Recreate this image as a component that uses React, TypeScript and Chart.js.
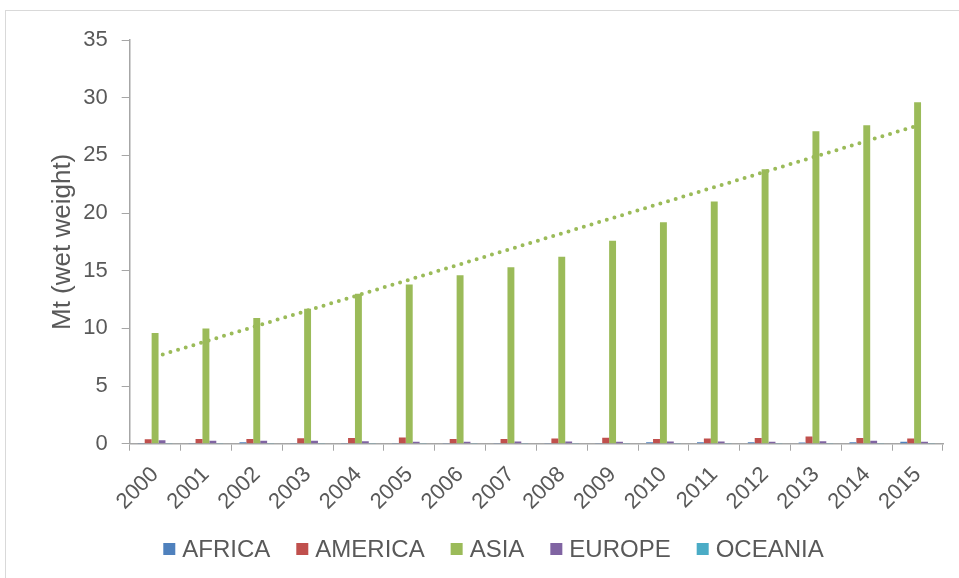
import React, { useEffect, useRef } from "react";
import { Chart, registerables } from "chart.js";

Chart.register(...registerables);

const years = ["2000", "2001", "2002", "2003", "2004", "2005", "2006", "2007", "2008", "2009", "2010", "2011", "2012", "2013", "2014", "2015"];
const africa = [0.06, 0.07, 0.12, 0.07, 0.06, 0.06, 0.07, 0.07, 0.07, 0.07, 0.12, 0.12, 0.12, 0.1, 0.12, 0.18];
const america = [0.38, 0.42, 0.42, 0.47, 0.5, 0.55, 0.42, 0.42, 0.45, 0.52, 0.42, 0.45, 0.5, 0.62, 0.5, 0.45];
const asia = [9.6, 10.0, 10.9, 11.7, 13.0, 13.8, 14.6, 15.3, 16.2, 17.6, 19.2, 21.0, 23.8, 27.1, 27.6, 29.6];
const europe = [0.3, 0.25, 0.25, 0.25, 0.22, 0.18, 0.18, 0.2, 0.2, 0.18, 0.2, 0.2, 0.18, 0.22, 0.25, 0.18];
const oceania = [0.02, 0.02, 0.02, 0.02, 0.02, 0.02, 0.02, 0.02, 0.02, 0.02, 0.02, 0.02, 0.02, 0.02, 0.02, 0.02];
const seriesNames = ["AFRICA", "AMERICA", "ASIA", "EUROPE", "OCEANIA"];
const yMax = 35;
const yStep = 5;
const yTitle = "Mt (wet weight)";

// Linear (least squares) trendline of the ASIA series, as in the source chart
function linearTrend(values: number[]): number[] {
  const n = values.length;
  const mx = (n - 1) / 2;
  const my = values.reduce((a, b) => a + b, 0) / n;
  let num = 0;
  let den = 0;
  values.forEach((v, i) => {
    num += (i - mx) * (v - my);
    den += (i - mx) * (i - mx);
  });
  const slope = num / den;
  return values.map((_, i) => my + slope * (i - mx));
}

const colors = ["#4f81bd", "#c0504d", "#9bbb59", "#8064a2", "#4bacc6"];
const textColor = "#595959";
const axisColor = "#a6a6a6";
const font = "'Liberation Sans', Arial, sans-serif";

// Legend drawn as real canvas text, laid out like the Excel legend
const legendPlugin = {
  id: "excelLegend",
  afterDraw(chart: any) {
    const ctx = chart.ctx;
    const sets = chart.data.datasets.filter((d: any) => d.type === "bar");
    ctx.save();
    ctx.font = `24px ${font}`;
    const box = 12;
    const gapText = 7;
    const gapItem = 26;
    const widths = sets.map((d: any) => box + gapText + ctx.measureText(d.label).width);
    const total = widths.reduce((a: number, b: number) => a + b, 0) + gapItem * (sets.length - 1);
    let x = chart.width / 2 + 14 - total / 2;
    const yMid = chart.height - 29;
    ctx.textBaseline = "middle";
    ctx.textAlign = "left";
    sets.forEach((d: any, i: number) => {
      ctx.fillStyle = d.backgroundColor;
      ctx.fillRect(x, yMid - box / 2, box, box);
      ctx.fillStyle = textColor;
      ctx.fillText(d.label, x + box + gapText, yMid + 1);
      x += widths[i] + gapItem;
    });
    ctx.restore();
  },
};

export default function App() {
  const ref = useRef<HTMLCanvasElement | null>(null);
  useEffect(() => {
    if (!ref.current) return;
    const data = [africa, america, asia, europe, oceania];
    const chart = new Chart(ref.current, {
      type: "bar",
      data: {
        labels: years,
        datasets: [
          ...data.map((d, i) => ({
            type: "bar" as const,
            label: seriesNames[i],
            data: d,
            backgroundColor: colors[i],
            borderWidth: 0,
            categoryPercentage: 0.68,
            barPercentage: 1.0,
            order: 2,
          })),
          {
            type: "line" as const,
            label: "trend",
            data: linearTrend(asia),
            borderColor: "#9bbb59",
            borderWidth: 4,
            borderDash: [0, 8],
            borderCapStyle: "round",
            pointRadius: 0,
            fill: false,
            order: 1,
          },
        ],
      },
      plugins: [legendPlugin],
      options: {
        responsive: false,
        animation: false,
        layout: { padding: { left: 47, right: 16, top: 40, bottom: 52 } },
        plugins: {
          tooltip: { enabled: false },
          legend: { display: false },
        },
        scales: {
          x: {
            grid: {
              display: true,
              drawOnChartArea: false,
              drawTicks: true,
              tickLength: 7,
              color: axisColor,
              offset: true,
            },
            border: { color: axisColor, width: 1.5 },
            ticks: {
              color: textColor,
              font: { family: font, size: 22 },
              maxRotation: 45,
              minRotation: 45,
              padding: 11,
            },
          },
          y: {
            min: 0,
            max: yMax,
            grid: {
              display: true,
              drawOnChartArea: false,
              drawTicks: true,
              tickLength: 8,
              color: axisColor,
            },
            border: { color: axisColor, width: 1.5 },
            ticks: {
              stepSize: yStep,
              color: textColor,
              font: { family: font, size: 22 },
              padding: 14,
            },
            title: {
              display: true,
              text: yTitle,
              color: textColor,
              font: { family: font, size: 26 },
              padding: { top: 0, bottom: -9 },
            },
          },
        },
      },
    } as any);
    return () => chart.destroy();
  }, []);
  return (
    <div style={{ position: "absolute", left: 0, top: 0, width: 959, height: 578, background: "#fff" }}>
      <div
        style={{
          position: "absolute",
          left: 5,
          top: 10,
          width: 960,
          height: 580,
          borderLeft: "1px solid #d9d9d9",
          borderTop: "1px solid #d9d9d9",
        }}
      />
      <canvas ref={ref} width={959} height={578} style={{ position: "absolute", left: 0, top: 0 }} />
    </div>
  );
}
